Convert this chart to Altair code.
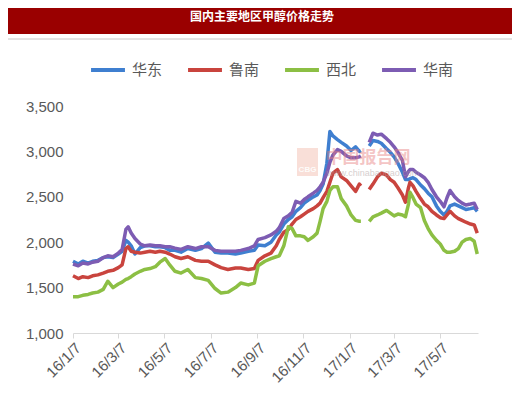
import altair as alt
import pandas as pd

TITLE = "国内主要地区甲醇价格走势"
SERIES = ["华东", "鲁南", "西北", "华南"]
COLORS = ["#3f7fd0", "#c9443e", "#8cbf44", "#7d5cb3"]

dates = [
    "2016-01-07", "2016-01-14", "2016-01-20", "2016-01-27", "2016-02-02", "2016-02-09",
    "2016-02-16", "2016-02-22", "2016-02-29", "2016-03-07", "2016-03-12", "2016-03-17",
    "2016-03-20", "2016-03-24", "2016-03-29", "2016-04-05", "2016-04-11", "2016-04-18",
    "2016-04-25", "2016-05-01", "2016-05-08", "2016-05-14", "2016-05-21", "2016-05-29",
    "2016-06-07", "2016-06-17", "2016-06-25", "2016-07-04", "2016-07-13", "2016-07-21",
    "2016-07-30", "2016-08-09", "2016-08-16", "2016-08-26", "2016-09-03", "2016-09-08",
    "2016-09-17", "2016-09-25", "2016-10-02", "2016-10-06", "2016-10-12", "2016-10-18",
    "2016-10-23", "2016-10-28", "2016-11-03", "2016-11-08", "2016-11-13", "2016-11-20",
    "2016-11-25", "2016-11-29", "2016-12-03", "2016-12-08", "2016-12-12", "2016-12-16",
    "2016-12-22", "2016-12-27", "2017-01-03", "2017-01-09", "2017-01-15", "2017-01-20",
    "2017-01-22", "2017-01-28", "2017-02-02", "2017-02-07", "2017-02-13", "2017-02-18",
    "2017-02-25", "2017-03-02", "2017-03-07", "2017-03-12", "2017-03-18", "2017-03-22",
    "2017-03-26", "2017-03-28", "2017-04-01", "2017-04-05", "2017-04-11", "2017-04-16",
    "2017-04-21", "2017-04-26", "2017-05-02", "2017-05-07", "2017-05-12", "2017-05-16",
    "2017-05-20", "2017-05-26", "2017-05-31", "2017-06-05", "2017-06-10", "2017-06-16",
    "2017-06-21", "2017-06-25",
]

huadong = [
    1790, 1760, 1790, 1770, 1790, 1800, 1830, 1840, 1830, 1870, 1900, 2020,
    2000, 1960, 1870, 1940, 1960, 1960, 1950, 1950, 1940, 1910, 1910, 1890,
    1930, 1910, 1930, 1990, 1890, 1880, 1880, 1870, 1880, 1900, 1910, 1970,
    1960, 2000, 2080, 2110, 2200, 2250, 2280, 2340, 2380, 2430, 2460, 2500,
    2520, 2570, 2640, 2870, 3220, 3170, 3130, 3100, 3060, 3010, 3050, 3000,
    3010, None, 3060, 3120, 3110, 3090, 3030, 2990, 2940, 2870, 2770, 2690,
    2690, 2700, 2710, 2690, 2630, 2590, 2540, 2500, 2400, 2340, 2300, 2340,
    2400, 2420, 2400, 2380, 2360, 2370, 2380, 2340,
]
lunan = [
    1630, 1600, 1620, 1610, 1630, 1640, 1660, 1680, 1690, 1720, 1750, 1930,
    1950, 1900, 1890, 1880, 1890, 1900, 1890, 1900, 1890, 1870, 1840, 1820,
    1840, 1800, 1790, 1790, 1750, 1720, 1700, 1715, 1715, 1700, 1710, 1800,
    1850, 1880, 1960, 2030, 2110, 2140, 2200, 2250, 2280, 2310, 2340, 2370,
    2400, 2430, 2490, 2560, 2660, 2760, 2800, 2720, 2680, 2620, 2560, 2640,
    2620, None, 2580, 2640, 2720, 2760, 2740, 2690, 2660, 2600, 2520, 2440,
    2600, 2660, 2620, 2560, 2480, 2420, 2390, 2340, 2300, 2270, 2260, 2300,
    2340, 2290, 2260, 2240, 2220, 2200, 2190, 2100,
]
xibei = [
    1400, 1400, 1415, 1425, 1440, 1450, 1480, 1570, 1500, 1540, 1560, 1590,
    1600, 1620, 1650, 1680, 1700, 1710, 1730, 1780, 1820, 1750, 1680, 1660,
    1700, 1610, 1600, 1580, 1490, 1440, 1450, 1500, 1550, 1530, 1550, 1740,
    1790, 1820, 1840, 1850, 1960, 2170, 2150, 2070, 2070, 2060, 2020, 2060,
    2100, 2230, 2370, 2450, 2570, 2610, 2610, 2480, 2400, 2300, 2240, 2230,
    2230, None, 2230, 2280, 2300, 2320, 2350, 2320, 2290, 2310, 2300, 2280,
    2420, 2550, 2490, 2420, 2380, 2240, 2150, 2080, 2020, 1980, 1910, 1890,
    1890, 1900, 1930, 2000, 2030, 2040, 2010, 1870,
]
huanan = [
    1760, 1740, 1770, 1760, 1780, 1790, 1830, 1850, 1840, 1880, 1920, 2140,
    2170, 2100, 2040, 1980, 1960, 1970, 1960, 1960, 1950, 1950, 1935, 1920,
    1950, 1930, 1950, 1950, 1910, 1900, 1900, 1900, 1910, 1930, 1960, 2030,
    2050, 2080, 2120, 2160, 2260, 2290, 2330, 2450, 2430, 2470, 2500, 2540,
    2570, 2610, 2660, 2760, 2880, 2960, 3020, 3000, 2950, 2930, 2930, 2940,
    2950, None, 3100, 3200, 3180, 3190, 3140, 3100, 3050, 2990, 2900, 2720,
    2780, 2800, 2800, 2770, 2740, 2710, 2660, 2580, 2500, 2450, 2390, 2490,
    2570, 2500, 2460, 2430, 2410, 2420, 2430, 2360,
]

Y_TICKS = [1000, 1500, 2000, 2500, 3000, 3500]
X_TICKS = ["2016-01-07", "2016-03-07", "2016-05-07", "2016-07-07", "2016-09-07",
           "2016-11-07", "2017-01-07", "2017-03-07", "2017-05-07"]
X_DOMAIN = ["2016-01-07", "2017-06-26"]

rows = []
for name, vals in zip(SERIES, [huadong, lunan, xibei, huanan]):
    seg = 0
    for d, v in zip(dates, vals):
        if v is None:
            seg += 1
            continue
        rows.append({"date": d, "value": v, "series": name, "seg": f"{name}{seg}"})
df = pd.DataFrame(rows)


def dt(s):
    y, m, d = (int(p) for p in s.split("-"))
    return alt.DateTime(year=y, month=m, date=d, utc=True)


lines = alt.Chart(df).mark_line(strokeWidth=3.5, strokeJoin="round").encode(
    x=alt.X("date:T",
            scale=alt.Scale(type="utc", domain=[dt(s) for s in X_DOMAIN]),
            axis=alt.Axis(values=[dt(s) for s in X_TICKS],
                          labelExpr="utcFormat(datum.value, '%y/%-m/%-d')",
                          labelAngle=-45, title=None, grid=False,
                          domainColor="#d9d9d9", tickColor="#d9d9d9", tickSize=5,
                          labelPadding=2, labelFont="Liberation Sans", labelFontSize=15,
                          labelColor="#595959")),
    y=alt.Y("value:Q",
            scale=alt.Scale(domain=[1000, 3500], nice=False, zero=False),
            axis=alt.Axis(values=Y_TICKS, labelExpr="format(datum.value, ',')",
                          title=None, grid=False,
                          domain=False, ticks=False, labelPadding=10,
                          labelFont="Liberation Sans", labelFontSize=15,
                          labelColor="#595959")),
    color=alt.Color("series:N",
                    scale=alt.Scale(domain=SERIES, range=COLORS),
                    sort=SERIES,
                    legend=alt.Legend(title=None, orient="none", legendX=16, legendY=-55,
                                      direction="horizontal", symbolType="stroke",
                                      symbolSize=1150, symbolStrokeWidth=4,
                                      labelFont="Noto Sans CJK SC", labelFontSize=15,
                                      labelColor="#595959", labelOffset=5,
                                      columnPadding=17)),
    detail="seg:N",
)

tdf = pd.DataFrame({"t": [TITLE]})
bar = alt.Chart(tdf).mark_rect(color="#9a0000").encode(
    x=alt.value(-65), x2=alt.value(439), y=alt.value(-98), y2=alt.value(-72))
title_text = alt.Chart(tdf).mark_text(color="white", fontSize=12, fontWeight="bold",
                                      font="Noto Sans CJK SC").encode(
    text="t:N", x=alt.value(189), y=alt.value(-89))
sep = alt.Chart(tdf).mark_rule(color="#c8c8c8", strokeWidth=1).encode(
    x=alt.value(-65), x2=alt.value(439), y=alt.value(-67))

logo_df = pd.DataFrame({"t": ["CBG"]})
logo = alt.Chart(logo_df).mark_rect(color="#f2b8a8", opacity=0.45).encode(
    x=alt.value(224), x2=alt.value(245), y=alt.value(42), y2=alt.value(70))
logo_text = alt.Chart(logo_df).mark_text(color="white", opacity=0.9, fontSize=8,
                                         fontWeight="bold", font="Liberation Sans").encode(
    text="t:N", x=alt.value(234.5), y=alt.value(64))

wm = pd.DataFrame({"t": ["中国报告网"]})
wm_text = alt.Chart(wm).mark_text(color="#e88080", opacity=0.45, fontSize=17,
                                  fontWeight="bold", font="Noto Sans CJK SC").encode(
    text="t:N", x=alt.value(295), y=alt.value(52))
wm2 = pd.DataFrame({"t": ["www.chinabaogao.com"]})
wm2_text = alt.Chart(wm2).mark_text(color="#b0a0a0", opacity=0.5, fontSize=9,
                                    font="Liberation Sans").encode(
    text="t:N", x=alt.value(300), y=alt.value(67))

chart = alt.layer(bar, sep, title_text, lines, logo, logo_text, wm_text, wm2_text).properties(
    width=405, height=227,
    autosize=alt.AutoSizeParams(type="none"),
    padding={"left": 65, "top": 98, "right": 34, "bottom": 56},
    background="white",
).configure_view(stroke=None)

chart.save("out.html", embed_options={"renderer": "svg", "actions": False})
